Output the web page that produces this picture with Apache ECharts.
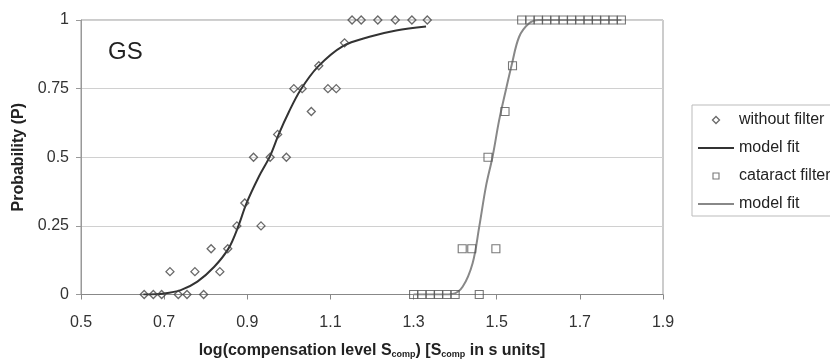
<!DOCTYPE html>
<html>
<head>
<meta charset="utf-8">
<script src="https://cdn.jsdelivr.net/npm/echarts@6/dist/echarts.min.js"></script>
<style>
html,body{margin:0;padding:0;background:#fff;}
#c{width:830px;height:359px;}
</style>
</head>
<body>
<div id="c"></div>
<script>
// Data
const xTicks = [0.5, 0.7, 0.9, 1.1, 1.3, 1.5, 1.7, 1.9];
const yTicks = [0, 0.25, 0.5, 0.75, 1];

// without filter: observed points [log S, P]
const withoutFilterX = [0.652,0.674,0.694,0.734,0.755,0.795, 0.714,0.774,0.834, 0.813,0.853, 0.875,0.933, 0.894,
  0.915,0.955,0.994, 0.973, 1.054, 1.012,1.032,1.094,1.114, 1.072, 1.134, 1.152,1.174,1.214,1.256,1.296,1.333];
const withoutFilterP = [0,0,0,0,0,0, 0.0833,0.0833,0.0833, 0.1667,0.1667, 0.25,0.25, 0.3333,
  0.5,0.5,0.5, 0.5833, 0.6667, 0.75,0.75,0.75,0.75, 0.8333, 0.9167, 1,1,1,1,1,1];

// model fit (without filter)
const fit1X = [0.65,0.70,0.74,0.78,0.82,0.855,0.878,0.898,0.928,0.955,0.976,1.00,1.028,1.07,1.13,1.194,1.258,1.33];
const fit1P = [0.0,0.004,0.016,0.047,0.10,0.168,0.247,0.332,0.43,0.505,0.585,0.665,0.745,0.83,0.905,0.939,0.962,0.976];

// cataract filter: observed points
const cataractX = [1.30,1.32,1.34,1.36,1.38,1.40,1.458, 1.417,1.440,1.498, 1.479, 1.520, 1.538,
  1.56,1.58,1.60,1.62,1.64,1.66,1.68,1.70,1.72,1.74,1.76,1.78,1.80];
const cataractP = [0,0,0,0,0,0,0, 0.1667,0.1667,0.1667, 0.5, 0.6667, 0.8333,
  1,1,1,1,1,1,1,1,1,1,1,1,1];

// model fit (cataract filter)
const fit2X = [1.30,1.37,1.394,1.418,1.442,1.458,1.474,1.49,1.506,1.522,1.536,1.554,1.578,1.60,1.70,1.80];
const fit2P = [0,0,0.002,0.028,0.114,0.247,0.393,0.502,0.636,0.745,0.836,0.939,0.988,1.0,1.0,1.0];

const zip = (a, b) => a.map((v, i) => [v, b[i]]);

const chart = echarts.init(document.getElementById('c'), null, {renderer: 'canvas'});
const FONT = 'Liberation Sans, Arial, sans-serif';

// legend icons: paths whose bounding box equals the 36x7 icon box, so nothing is stretched
const BOX = 'M0,0 M36,7 ';
const ICON_DIAMOND = 'path://' + BOX + 'M18,0 L21.5,3.5 L18,7 L14.5,3.5 Z';
const ICON_SQUARE = 'path://' + BOX + 'M15,0.5 L21,0.5 L21,6.5 L15,6.5 Z';
const ICON_LINE = 'path://' + BOX + 'M0,3.5 L36,3.5';

chart.setOption({
  animation: false,
  backgroundColor: '#fff',
  textStyle: {fontFamily: FONT},
  grid: {left: 81, right: 167, top: 20, bottom: 64.5, show: true, borderColor: '#999', borderWidth: 1,
    containLabel: false, outerBoundsMode: 'none'},
  xAxis: {
    type: 'value', min: xTicks[0], max: xTicks[xTicks.length - 1], interval: 0.2,
    axisLine: {show: true, lineStyle: {color: '#888', width: 1}},
    axisTick: {show: true, inside: false, length: 5, lineStyle: {color: '#888'}},
    splitLine: {show: false},
    axisLabel: {fontSize: 16, color: '#333', margin: 20, fontFamily: FONT,
      formatter: v => { const t = xTicks.find(x => Math.abs(x - v) < 1e-6); return t === undefined ? '' : t.toFixed(1); }},
    name: 'log(compensation level S{s|comp}) [S{s|comp} in s units]',
    nameLocation: 'middle', nameGap: 48,
    nameTextStyle: {fontSize: 16, fontWeight: 'bold', color: '#222', fontFamily: FONT,
      rich: {s: {fontSize: 9, fontWeight: 'bold', color: '#222', verticalAlign: 'bottom', padding: [8, 0, 0, 0]}}}
  },
  yAxis: {
    type: 'value', min: 0, max: 1, interval: 0.25,
    axisLine: {show: true, lineStyle: {color: '#999', width: 1}},
    axisTick: {show: true, inside: false, length: 5, lineStyle: {color: '#999'}},
    splitLine: {show: true, lineStyle: {color: '#d0d0d0', width: 1}},
    axisLabel: {fontSize: 16, color: '#333', margin: 12, fontFamily: FONT,
      formatter: v => { const t = yTicks.find(y => Math.abs(y - v) < 1e-6); return t === undefined ? '' : String(t); }},
    name: 'Probability (P)', nameLocation: 'middle', nameRotate: 90, nameGap: 49,
    nameTextStyle: {fontSize: 16, fontWeight: 'bold', color: '#222', fontFamily: FONT}
  },
  legend: {
    orient: 'vertical', left: 692, top: 105,
    padding: [7, 10, 4, 5], itemGap: 12, itemWidth: 36, itemHeight: 7,
    backgroundColor: '#fff', borderColor: '#bbb', borderWidth: 1, borderRadius: 0,
    textStyle: {fontSize: 16, color: '#222', fontFamily: FONT},
    data: [
      {name: 'without filter', icon: ICON_DIAMOND,
        itemStyle: {color: 'rgba(255,255,255,0)', borderColor: '#444', borderWidth: 1.3}},
      {name: 'model fit 1', icon: ICON_LINE,
        itemStyle: {color: 'rgba(255,255,255,0)', borderColor: '#333', borderWidth: 2}},
      {name: 'cataract filter', icon: ICON_SQUARE,
        itemStyle: {color: 'rgba(255,255,255,0)', borderColor: '#555', borderWidth: 1.1}},
      {name: 'model fit 2', icon: ICON_LINE,
        itemStyle: {color: 'rgba(255,255,255,0)', borderColor: '#888', borderWidth: 2}}
    ],
    formatter: n => n.replace(/ [12]$/, '')
  },
  graphic: [{
    type: 'text', left: 108, top: 40,
    style: {text: 'GS', font: '24px ' + FONT, fill: '#222'}
  }],
  series: [
    {
      name: 'model fit 1', type: 'line', data: zip(fit1X, fit1P), showSymbol: false, symbol: 'none',
      smooth: 0.35, lineStyle: {color: '#333', width: 2}, itemStyle: {color: '#333'}, z: 2
    },
    {
      name: 'model fit 2', type: 'line', data: zip(fit2X, fit2P), showSymbol: false, symbol: 'none',
      smooth: 0.35, lineStyle: {color: '#888', width: 2}, itemStyle: {color: '#888'}, z: 2
    },
    {
      name: 'without filter', type: 'scatter', data: zip(withoutFilterX, withoutFilterP),
      symbol: 'diamond', symbolSize: 8,
      itemStyle: {color: 'rgba(255,255,255,0)', borderColor: '#444', borderWidth: 1.3}, z: 3
    },
    {
      name: 'cataract filter', type: 'scatter', data: zip(cataractX, cataractP),
      symbol: 'rect', symbolSize: 8,
      itemStyle: {color: 'rgba(255,255,255,0)', borderColor: '#555', borderWidth: 1.1}, z: 3
    }
  ]
});
</script>
</body>
</html>
